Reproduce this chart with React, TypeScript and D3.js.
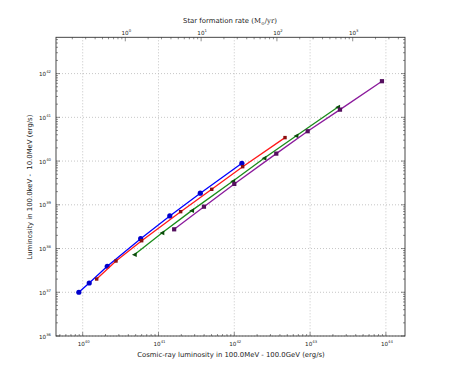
import React, { useRef, useEffect } from 'react';
import * as d3 from 'd3';

// cosmic-ray luminosity (erg/s) vs. luminosity 100 keV - 10 MeV (erg/s)
const blueX = [8.9e39, 1.22e40, 2.11e40, 5.82e40, 1.41e41, 3.56e41, 1.26e42];
const blueY = [1.0e37, 1.63e37, 3.93e37, 1.68e38, 5.56e38, 1.84e39, 8.9e39];

const redX = [1.53e40, 2.75e40, 6.0e40, 1.96e41, 5.04e41, 1.29e42, 4.67e42];
const redY = [2.01e37, 5.19e37, 1.51e38, 6.97e38, 2.26e39, 7.45e39, 3.44e40];

const greenX = [4.8e40, 1.11e41, 2.74e41, 9.53e41, 2.47e42, 6.52e42, 2.31e43];
const greenY = [7.24e37, 2.27e38, 7.35e38, 3.45e39, 1.16e40, 3.76e40, 1.7e41];

const purpleX = [1.61e41, 3.98e41, 1.0e42, 3.58e42, 9.29e42, 2.48e43, 8.87e43];
const purpleY = [2.75e38, 9.06e38, 3.0e39, 1.48e40, 4.81e40, 1.5e41, 6.7e41];

const xDecades = [40, 41, 42, 43, 44];
const yDecades = [36, 37, 38, 39, 40, 41, 42];
const sfrDecades = [0, 1, 2, 3];

// L_CR that corresponds to SFR = 1 Msun/yr
const sfrFactor = 3.65e40;

const series = [
	{ xs: blueX, ys: blueY, line: '#0000ff', mark: '#0000cc', shape: 'circle', size: 2.6 },
	{ xs: redX, ys: redY, line: '#ff1a1a', mark: '#8b1010', shape: 'square', size: 1.7 },
	{ xs: greenX, ys: greenY, line: '#1a8c1a', mark: '#0b4d0b', shape: 'triangle', size: 2.4 },
	{ xs: purpleX, ys: purpleY, line: '#8b1a9c', mark: '#55105f', shape: 'square', size: 2.1 },
];

const W = 450;
const H = 375;
const left = 56;
const right = 405;
const top = 37.3;
const bottom = 336;
const FONT = 'DejaVu Sans, sans-serif';

const renderChart = (ref) => {
	const svg = d3.select(ref.current);
	svg.selectAll('*').remove();

	const x = d3.scaleLog().domain([10 ** 39.648, 10 ** 44.252]).range([left, right]);
	const y = d3.scaleLog().domain([1e36, 10 ** 42.83]).range([bottom, top]);
	const xs = d3.scaleLog()
		.domain([10 ** 39.648 / sfrFactor, 10 ** 44.252 / sfrFactor])
		.range([left, right]);

	const g = svg.append('g');

	// grid
	xDecades.forEach((d) => {
		g.append('line')
			.attr('x1', x(10 ** d)).attr('x2', x(10 ** d))
			.attr('y1', top).attr('y2', bottom)
			.attr('stroke', '#b8b8b8').attr('stroke-width', 0.8)
			.attr('stroke-dasharray', '1,2');
	});
	yDecades.forEach((d) => {
		g.append('line')
			.attr('x1', left).attr('x2', right)
			.attr('y1', y(10 ** d)).attr('y2', y(10 ** d))
			.attr('stroke', '#b8b8b8').attr('stroke-width', 0.8)
			.attr('stroke-dasharray', '1,2');
	});

	// ticks (inward)
	const isMajor = (t) => Math.abs(Math.log10(t) - Math.round(Math.log10(t))) < 1e-6;
	const ticks = g.append('g').attr('stroke', '#444').attr('stroke-width', 0.6);
	x.ticks().forEach((t) => {
		const len = isMajor(t) ? 4 : 2;
		ticks.append('line').attr('x1', x(t)).attr('x2', x(t))
			.attr('y1', bottom).attr('y2', bottom - len);
	});
	xs.ticks().forEach((t) => {
		const len = isMajor(t) ? 4 : 2;
		ticks.append('line').attr('x1', xs(t)).attr('x2', xs(t))
			.attr('y1', top).attr('y2', top + len);
	});
	y.ticks().forEach((t) => {
		const len = isMajor(t) ? 4 : 2;
		ticks.append('line').attr('x1', left).attr('x2', left + len)
			.attr('y1', y(t)).attr('y2', y(t));
		ticks.append('line').attr('x1', right).attr('x2', right - len)
			.attr('y1', y(t)).attr('y2', y(t));
	});

	// frame
	g.append('rect')
		.attr('x', left).attr('y', top)
		.attr('width', right - left).attr('height', bottom - top)
		.attr('fill', 'none').attr('stroke', '#333').attr('stroke-width', 0.9);

	// data
	const line = d3.line().x((d) => x(d[0])).y((d) => y(d[1]));
	series.forEach((s) => {
		const pts = s.xs.map((v, i) => [v, s.ys[i]]);
		g.append('path').attr('d', line(pts))
			.attr('fill', 'none').attr('stroke', s.line).attr('stroke-width', 1.3);
		pts.forEach((p) => {
			const cx = x(p[0]);
			const cy = y(p[1]);
			if (s.shape === 'circle') {
				g.append('circle').attr('cx', cx).attr('cy', cy).attr('r', s.size)
					.attr('fill', s.mark);
			} else if (s.shape === 'triangle') {
				const r = s.size;
				g.append('path')
					.attr('d', `M${ cx + r },${ cy - r }L${ cx + r },${ cy + r }L${ cx - r },${ cy }Z`)
					.attr('fill', s.mark);
			} else {
				g.append('rect').attr('x', cx - s.size).attr('y', cy - s.size)
					.attr('width', s.size * 2).attr('height', s.size * 2)
					.attr('fill', s.mark);
			}
		});
	});

	// tick labels
	const pow = (sel, base, exp) => {
		sel.append('tspan').text(base);
		sel.append('tspan').text(exp).attr('dy', -3).attr('font-size', 3.8);
	};
	xDecades.forEach((d) => {
		const t = g.append('text').attr('x', x(10 ** d) + 1).attr('y', 346)
			.attr('text-anchor', 'middle').attr('font-size', 5.6)
			.attr('font-family', FONT).attr('fill', '#222');
		pow(t, '10', d);
	});
	sfrDecades.forEach((d) => {
		const t = g.append('text').attr('x', xs(10 ** d) + 1).attr('y', 35)
			.attr('text-anchor', 'middle').attr('font-size', 5.6)
			.attr('font-family', FONT).attr('fill', '#222');
		pow(t, '10', d);
	});
	yDecades.forEach((d) => {
		const t = g.append('text').attr('x', 51).attr('y', y(10 ** d) + 2.5)
			.attr('text-anchor', 'end').attr('font-size', 5.6)
			.attr('font-family', FONT).attr('fill', '#222');
		pow(t, '10', d);
	});

	// axis labels
	g.append('text').attr('x', 231).attr('y', 357)
		.attr('text-anchor', 'middle').attr('font-size', 6.9)
		.attr('font-family', FONT).attr('fill', '#222')
		.text('Cosmic-ray luminosity in 100.0MeV - 100.0GeV (erg/s)');

	const topLabel = g.append('text').attr('x', 230).attr('y', 23)
		.attr('text-anchor', 'middle').attr('font-size', 6.9)
		.attr('font-family', FONT).attr('fill', '#222');
	topLabel.append('tspan').text('Star formation rate ');
	topLabel.append('tspan').attr('font-family', 'DejaVu Serif, serif').text('(M');
	topLabel.append('tspan').attr('font-family', 'DejaVu Serif, serif')
		.attr('font-size', 4.5).attr('dy', 1.5).text('\u2299');
	topLabel.append('tspan').attr('font-family', 'DejaVu Serif, serif')
		.attr('dy', -1.5).text('/yr)');

	g.append('text')
		.attr('transform', 'translate(32,187) rotate(-90)')
		.attr('text-anchor', 'middle').attr('font-size', 6.9)
		.attr('font-family', FONT).attr('fill', '#222')
		.attr('xml:space', 'preserve')
		.style('white-space', 'pre')
		.text('Luminosity in 100.0keV -  10.0MeV (erg/s)');
};

const App = () => {
	const ref = useRef(null);

	useEffect(() => {
		renderChart(ref);
	}, []);

	return (
		<div style={ { position: 'absolute', left: 0, top: 0 } }>
			<svg ref={ ref } width={ W } height={ H } style={ { display: 'block', background: '#fff' } }/>
		</div>
	);
};

export default App;
